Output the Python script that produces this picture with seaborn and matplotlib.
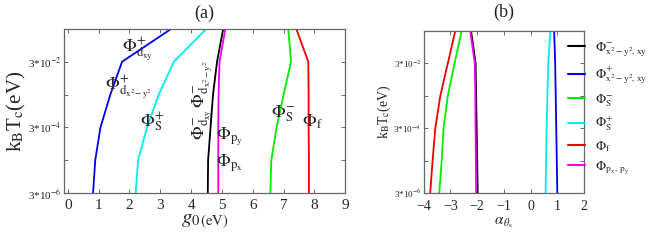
import numpy as np
import pandas as pd
import matplotlib
matplotlib.use("Agg")
import matplotlib.pyplot as plt
import seaborn as sns

# ---- data ----
kT = [3e-6, 3e-5, 3e-4, 3e-3, 3e-2, 3e-1]

# panel (a): g0 (eV) at which each channel reaches kT
g_blue = [0.82, 0.89, 1.06, 1.38, 1.76, 3.35]     # Phi+ x2-y2, xy
g_cyan = [2.20, 2.28, 2.57, 2.95, 3.44, 4.49]     # Phi+ S
g_black = [4.54, 4.55, 4.63, 4.71, 4.84, 5.04]    # Phi- x2-y2, xy
g_magenta = [4.88, 4.88, 4.88, 4.89, 4.92, 5.11]  # Phi px,py
g_green = [6.57, 6.60, 6.77, 7.00, 7.24, 7.15]    # Phi- S
g_red = [7.82, 7.82, 7.81, 7.81, 7.80, 7.41]      # Phi f

# panel (b): alpha_theta_s
a_black = [-1.98, -2.00, -2.02, -2.04, -2.06, -2.23]
a_blue = [1.00, 0.98, 0.96, 0.94, 0.92, 0.88]
a_green = [-3.42, -3.33, -3.26, -3.10, -2.85, -2.58]
a_cyan = [0.56, 0.58, 0.60, 0.63, 0.66, 0.74]
a_red = [-3.76, -3.67, -3.57, -3.38, -3.10, -2.82]
a_magenta = [-2.04, -2.05, -2.06, -2.07, -2.09, -2.26]

series_names = ["minus_d", "plus_d", "minus_S", "plus_S", "f", "p"]
legend_labels = [r"$\Phi^{-}_{\mathrm{x^2-\,y^2\!,\,xy}}$",
                 r"$\Phi^{+}_{\mathrm{x^2-\,y^2\!,\,xy}}$",
                 r"$\Phi^{-}_{\mathrm{S}}$", r"$\Phi^{+}_{\mathrm{S}}$",
                 r"$\Phi_{\mathrm{f}}$",
                 r"$\Phi_{\mathrm{p_x\,,\,p_y}}$"]
colors = ["#000000", "#0000ee", "#00ee00", "#00eeee", "#ee0000", "#ee00ee"]

g_vals = [g_black, g_blue, g_green, g_cyan, g_red, g_magenta]
a_vals = [a_black, a_blue, a_green, a_cyan, a_red, a_magenta]

def long_df(vals):
    rows = []
    for name, v in zip(series_names, vals):
        for i, (xx, yy) in enumerate(zip(v, kT)):
            rows.append(dict(x=xx, y=yy, s=name, o=i))
    return pd.DataFrame(rows)

df_a = long_df(g_vals)
df_b = long_df(a_vals)
palette = dict(zip(series_names, colors))

sns.set_theme(style="ticks")
plt.rcParams['font.family'] = ['Liberation Serif', 'DejaVu Serif']
plt.rcParams['mathtext.fontset'] = 'stix'

fig = plt.figure(figsize=(6.54, 2.42), dpi=100)
axa = fig.add_axes([0.098, 0.2025, 0.430, 0.678])
axb = fig.add_axes([0.648, 0.2025, 0.245, 0.670])

for ax, df in ((axa, df_a), (axb, df_b)):
    sns.lineplot(data=df, x="x", y="y", hue="s", palette=palette, sort=False,
                 estimator=None, units="s", legend=False, ax=ax, lw=1.3,
                 hue_order=series_names)
    ax.set_yscale("log")
    ax.set_ylim(3e-6, 3e-1)
    yt = [3 * 10.0 ** k for k in range(-6, 0)]
    ax.set_yticks(yt)
    ax.set_yticklabels(["" if k % 2 else r"3*10$^{%d}$" % k for k in range(-6, 0)])
    ax.yaxis.set_minor_locator(matplotlib.ticker.NullLocator())
    ax.tick_params(direction="in", top=True, right=True, length=3, width=0.6,
                   color="#555555", pad=2)
    ax.tick_params(axis="x", pad=4)
    for sp in ax.spines.values():
        sp.set_color("#666666")
        sp.set_linewidth(0.9)
    ax.set_xlabel("")
    ax.set_ylabel("")

# panel (a)
axa.set_xlim(-0.12, 9)
axa.set_xticks(range(0, 10))
axa.tick_params(axis="x", labelsize=11)
axa.tick_params(axis="y", labelsize=8)
axa.set_title("(a)", fontsize=13, pad=8)
axa.set_ylabel(r"k$_{\rm B}$T$_{\rm c}$(eV)", fontsize=15, labelpad=0)
axa.set_xlabel(r"$g_{\mathrm{0\,(eV)}}$", fontsize=15, labelpad=0)

fs = 13
axa.text(1.75, 7.5e-2, r"$\Phi^{+}_{\mathrm{d_{xy}}}$", fontsize=fs, va="center", ha="left")
axa.text(1.2, 5.0e-3, r"$\Phi^{+}_{\mathrm{d_{x^2-y^2}}}$", fontsize=fs, va="center", ha="left")
axa.text(2.35, 4.3e-4, r"$\Phi^{+}_{\mathrm{S}}$", fontsize=fs, va="center", ha="left")
axa.text(4.38, 2.0e-3, r"$\Phi^{-}_{\mathrm{d_{xy}}}\,\Phi^{-}_{\mathrm{d_{x^2-y^2}}}$", fontsize=fs,
         va="center", ha="center", rotation=90)
axa.text(4.8, 1.5e-4, r"$\Phi_{\mathrm{p_y}}$", fontsize=fs, va="center", ha="left")
axa.text(4.8, 2.5e-5, r"$\Phi_{\mathrm{p_x}}$", fontsize=fs, va="center", ha="left")
axa.text(6.6, 8.0e-4, r"$\Phi^{-}_{\mathrm{S}}$", fontsize=fs, va="center", ha="left")
axa.text(7.6, 4.3e-4, r"$\Phi_{\mathrm{f}}$", fontsize=fs, va="center", ha="left")

# panel (b)
axb.set_xlim(-4, 2)
axb.set_xticks(range(-4, 3))
axb.tick_params(axis="x", labelsize=10, pad=5)
axb.tick_params(axis="y", labelsize=6.5)
axb.set_title("(b)", fontsize=13, pad=10)
axb.set_ylabel(r"k$_{\rm B}$T$_{\rm c}$(eV)", fontsize=10, labelpad=0)
axb.set_xlabel(r"$\alpha_{\,\theta_{\rm s}}$", fontsize=11, labelpad=2)

from matplotlib.lines import Line2D
handles = [Line2D([0], [0], color=c, lw=1.5) for c in colors]
axb.legend(handles, legend_labels, loc="upper left", bbox_to_anchor=(0.84, 1.0),
           frameon=False, fontsize=9.5, handlelength=1.3, handletextpad=0.8,
           labelspacing=0.45, borderaxespad=0.3)

fig.savefig("out.png", dpi=100)
